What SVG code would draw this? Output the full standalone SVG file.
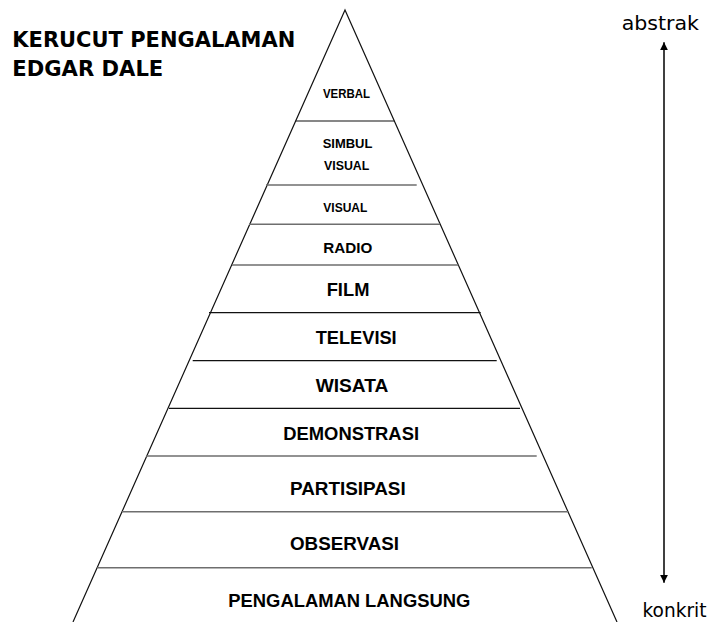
<svg xmlns="http://www.w3.org/2000/svg" width="708" height="622" viewBox="0 0 708 622">
<style>
.edge{stroke:#111;stroke-width:1.2;fill:none}
.lk{stroke:#111;stroke-width:1.2}
.lg{stroke:#6e6e6e;stroke-width:1.6}
.lb{font-family:"Liberation Sans",Arial,sans-serif;font-weight:bold;fill:#000}
.s12{font-size:12px}
.s15{font-size:15px}
.s18{font-size:18px}
.title{font-family:"DejaVu Sans",Verdana,sans-serif;font-weight:bold;font-size:22px;fill:#000}
.side{font-family:"DejaVu Sans",Tahoma,sans-serif;font-size:19px;fill:#000}
.arr{stroke:#000;stroke-width:1.5;fill:none}
</style>
<defs>
<marker id="ah" viewBox="0 0 10 10" refX="10" refY="5" markerWidth="8" markerHeight="8" markerUnits="userSpaceOnUse" orient="auto-start-reverse">
<path d="M0,0 L10,5 L0,10 z" fill="#000"/>
</marker>
</defs>
<rect width="708" height="622" fill="#fff"/>
<g id="title">
<text class="title" x="12.3" y="46.7" textLength="283" lengthAdjust="spacingAndGlyphs">KERUCUT PENGALAMAN</text>
<text class="title" x="12.3" y="76" textLength="151" lengthAdjust="spacingAndGlyphs">EDGAR DALE</text>
</g>
<g id="cone">
<path class="edge" d="M73,622 L345,10 L617,622"/>
</g>
<g id="verbal">
<text class="lb s12" x="323" y="98.3" textLength="47" lengthAdjust="spacingAndGlyphs">VERBAL</text>
<line class="lk" x1="295.7" y1="121" x2="394.3" y2="121"/>
</g>
<g id="simbul-visual">
<text class="lb s12" x="322.7" y="148.3" textLength="49.7" lengthAdjust="spacingAndGlyphs">SIMBUL</text>
<text class="lb s12" x="324" y="170" textLength="45.3" lengthAdjust="spacingAndGlyphs">VISUAL</text>
<line class="lg" x1="266" y1="185" x2="416.7" y2="185"/>
</g>
<g id="visual">
<text class="lb s12" x="323.3" y="211.7" textLength="44" lengthAdjust="spacingAndGlyphs">VISUAL</text>
<line class="lg" x1="249" y1="224.3" x2="440" y2="224.3"/>
</g>
<g id="radio">
<text class="lb s15" x="323.3" y="253.3" textLength="49" lengthAdjust="spacingAndGlyphs">RADIO</text>
<line class="lg" x1="232" y1="265" x2="458.3" y2="265"/>
</g>
<g id="film">
<text class="lb s18" x="326.7" y="296" textLength="42.7" lengthAdjust="spacingAndGlyphs">FILM</text>
<line class="lk" x1="209" y1="312.7" x2="480.7" y2="312.7"/>
</g>
<g id="televisi">
<text class="lb s18" x="315.7" y="344" textLength="81" lengthAdjust="spacingAndGlyphs">TELEVISI</text>
<line class="lk" x1="192.7" y1="360.7" x2="496.7" y2="360.7"/>
</g>
<g id="wisata">
<text class="lb s18" x="315.7" y="391.7" textLength="72.7" lengthAdjust="spacingAndGlyphs">WISATA</text>
<line class="lk" x1="169" y1="408.3" x2="520" y2="408.3"/>
</g>
<g id="demonstrasi">
<text class="lb s18" x="283.3" y="440" textLength="135.7" lengthAdjust="spacingAndGlyphs">DEMONSTRASI</text>
<line class="lg" x1="146" y1="456" x2="536.7" y2="456"/>
</g>
<g id="partisipasi">
<text class="lb s18" x="290" y="495" textLength="115.7" lengthAdjust="spacingAndGlyphs">PARTISIPASI</text>
<line class="lg" x1="122" y1="511.7" x2="568.3" y2="511.7"/>
</g>
<g id="observasi">
<text class="lb s18" x="290" y="550" textLength="109" lengthAdjust="spacingAndGlyphs">OBSERVASI</text>
<line class="lg" x1="97.3" y1="567.7" x2="591.7" y2="567.7"/>
</g>
<g id="pengalaman-langsung">
<text class="lb s18" x="228.3" y="606.7" textLength="242" lengthAdjust="spacingAndGlyphs">PENGALAMAN LANGSUNG</text>
</g>
<g id="abstrak">
<text class="side" x="621.7" y="30" textLength="77.3" lengthAdjust="spacingAndGlyphs">abstrak</text>
</g>
<g id="konkrit">
<text class="side" x="642.5" y="616.5" textLength="64" lengthAdjust="spacingAndGlyphs">konkrit</text>
</g>
<g id="connectors">
<line class="arr" x1="664" y1="582.7" x2="664" y2="42.3" marker-start="url(#ah)" marker-end="url(#ah)"/>
</g>
</svg>
